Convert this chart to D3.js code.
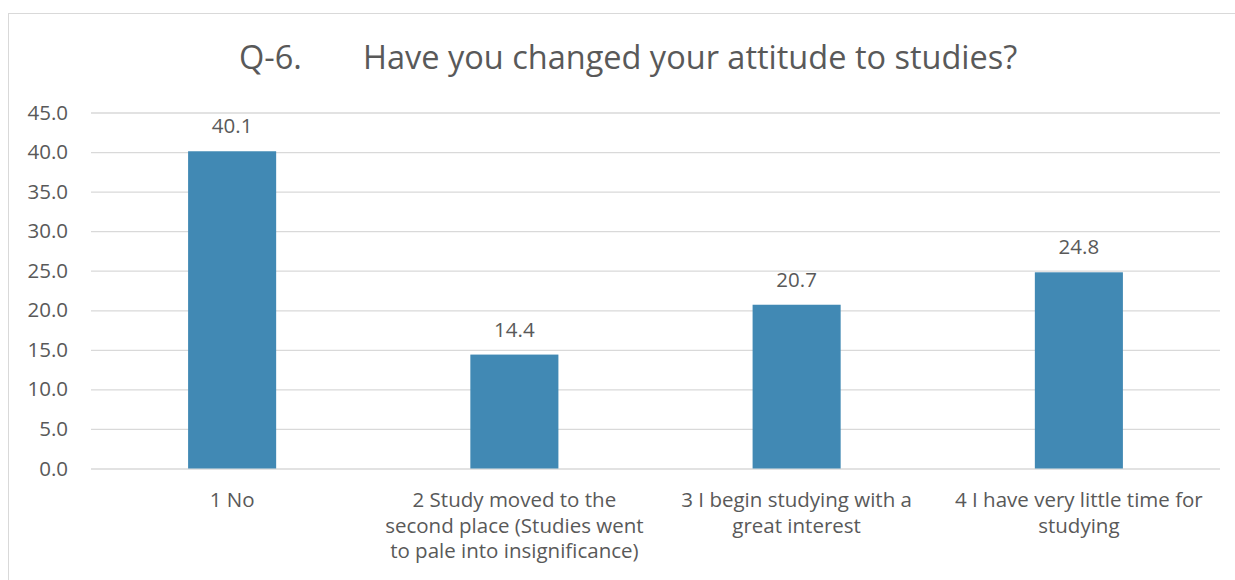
<!DOCTYPE html>
<html>
<head>
<meta charset="utf-8">
<script src="https://cdn.jsdelivr.net/npm/d3@7"></script>
<style>
  html, body { margin: 0; padding: 0; background: #fff; }
  svg { display: block; }
  text { font-family: "Open Sans", "Noto Sans", sans-serif; fill: #595959; }
</style>
</head>
<body>
<svg id="chart" width="1235" height="580"></svg>
<script>
// Survey answers (percent of respondents)
const categories = [
  "1 No",
  "2 Study moved to the\nsecond place (Studies went\nto pale into insignificance)",
  "3 I begin studying with a\ngreat interest",
  "4 I have very little time for\nstudying"
];
const values = [40.1, 14.4, 20.7, 24.8];
const yTicks = [0, 5, 10, 15, 20, 25, 30, 35, 40, 45];
const titleNumber = "Q-6.";
const titleText = "Have you changed your attitude to studies?";

const svg = d3.select("#chart");
const margin = { left: 91, right: 1220, top: 112.5, bottom: 468.5 };
const labelSize = 20.5;

// Chart frame
svg.append("rect")
  .attr("x", 8.5).attr("y", 13.5)
  .attr("width", 1240).attr("height", 600)
  .attr("fill", "#fff").attr("stroke", "#d9d9d9").attr("stroke-width", 1);

const x = d3.scaleBand()
  .domain(categories)
  .range([margin.left, margin.right])
  .padding(0);

const y = d3.scaleLinear()
  .domain([0, 45])
  .range([margin.bottom, margin.top]);

// Gridlines + y tick labels
const yAxis = d3.axisLeft(y)
  .tickValues(yTicks)
  .tickSize(-(margin.right - margin.left))
  .tickPadding(23)
  .tickFormat(d3.format(".1f"));

const gy = svg.append("g")
  .attr("transform", `translate(${margin.left},0)`)
  .call(yAxis);
gy.select(".domain").remove();
gy.selectAll(".tick line").attr("stroke", "#d9d9d9").attr("stroke-width", 1.3);
gy.selectAll(".tick text")
  .attr("font-size", labelSize)
  .attr("font-family", "'Open Sans', sans-serif")
  .attr("fill", "#595959");

// Bars
const barFrac = 0.312;
svg.append("g").selectAll("rect")
  .data(values)
  .join("rect")
  .attr("x", (d, i) => x(categories[i]) + x.bandwidth() * (1 - barFrac) / 2)
  .attr("width", x.bandwidth() * barFrac)
  .attr("y", d => y(d))
  .attr("height", d => y(0) - y(d))
  .attr("fill", "#4189b4");

// Value labels
svg.append("g").selectAll("text")
  .data(values)
  .join("text")
  .attr("x", (d, i) => x(categories[i]) + x.bandwidth() / 2)
  .attr("y", d => y(d) - 18)
  .attr("text-anchor", "middle")
  .attr("font-size", labelSize)
  .text(d => d3.format(".1f")(d));

// Category labels (multi-line)
const catG = svg.append("g");
categories.forEach(c => {
  const t = catG.append("text")
    .attr("x", x(c) + x.bandwidth() / 2)
    .attr("y", 507)
    .attr("text-anchor", "middle")
    .attr("font-size", labelSize);
  c.split("\n").forEach((line, j) => {
    t.append("tspan")
      .attr("x", x(c) + x.bandwidth() / 2)
      .attr("y", 507 + j * 25.5)
      .text(line);
  });
});

// Title
svg.append("text")
  .attr("x", 239).attr("y", 69)
  .attr("font-size", 32.5)
  .text(titleNumber);
svg.append("text")
  .attr("x", 363).attr("y", 69)
  .attr("font-size", 32.5)
  .text(titleText);
</script>
</body>
</html>
